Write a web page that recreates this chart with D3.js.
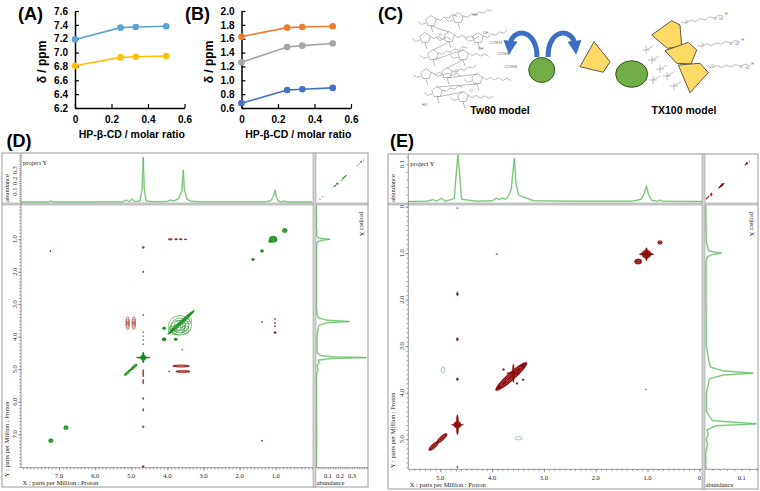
<!DOCTYPE html>
<html lang="en">
<head>
<meta charset="utf-8">
<title>HP-β-CD / surfactant figure</title>
<script src="https://cdnjs.cloudflare.com/ajax/libs/d3/7.8.5/d3.min.js"></script>
<style>
  body { margin: 0; background: #fff; }
  svg { display: block; }
  .bold { font-family: "Liberation Sans", Arial, sans-serif; font-weight: bold; fill: #000; }
  .nmr { font-family: "Liberation Serif", "Times New Roman", serif; font-size: 6.5px; fill: #222; }
  .chem { font-family: "Liberation Sans", Arial, sans-serif; font-size: 3.6px; fill: #666; }
</style>
</head>
<body>
<div id="fig"></div>
<script>
// ---------- (A) / (B) chemical shift vs molar ratio ----------
var ratio = [0, 0.25, 0.333, 0.5];
var ratioTicks = [0, 0.2, 0.4, 0.6];
var aBlue = [7.19, 7.36, 7.37, 7.38];
var aYellow = [6.81, 6.93, 6.94, 6.95];
var aTicks = [6.2, 6.4, 6.6, 6.8, 7.0, 7.2, 7.4, 7.6];
var bOrange = [1.63, 1.76, 1.77, 1.78];
var bGray = [1.26, 1.48, 1.50, 1.53];
var bBlue = [0.67, 0.86, 0.87, 0.89];
var bTicks = [0.6, 0.8, 1.0, 1.2, 1.4, 1.6, 1.8, 2.0];

// ---------- (D) 2D spectrum, Tw80 ----------
var dXTicks = [7, 6, 5, 4, 3, 2, 1];
var dYTicks = [1, 2, 3, 4, 5, 6, 7];
var dAbTicks = [0.1, 0.2, 0.3];
// [ppm, abundance]
var dTopSpec = [[8.05,.003],[7.3,.003],[7.23,.012],[7.16,.003],[6.85,.003],[6.81,.006],[6.77,.003],[5.25,.004],[5.13,.02],[5.06,.006],[4.97,.03],[4.9,.007],[4.76,.012],[4.7,.12],[4.67,.42],[4.64,.12],[4.59,.012],[4.4,.005],[4.0,.008],[3.92,.02],[3.84,.012],[3.7,.03],[3.6,.1],[3.56,.3],[3.53,.12],[3.46,.03],[3.35,.01],[3.1,.004],[1.3,.004],[1.13,.015],[1.06,.06],[1.02,.115],[0.98,.05],[0.93,.012],[0.85,.004],[0.77,.012],[0.7,.003],[0,.003]];
var dSideSpec = [[-0.05,.003],[0.7,.004],[0.78,.008],[0.85,.004],[0.95,.015],[0.98,.05],[1.0,.117],[1.03,.05],[1.08,.012],[1.2,.005],[1.4,.004],[3.0,.004],[3.3,.008],[3.42,.02],[3.49,.09],[3.53,.28],[3.57,.09],[3.65,.025],[3.8,.015],[3.95,.01],[4.1,.008],[4.5,.01],[4.58,.04],[4.62,.15],[4.64,.42],[4.67,.13],[4.72,.02],[4.8,.025],[4.9,.008],[5.02,.018],[5.12,.006],[5.3,.004],[7.2,.006],[8.03,.003]];
// cross peaks: ppm centre, half widths (ppm), diagonal tilt, sign colour, contour levels
var dPeaks = [
  {x:0.75,y:0.73,wx:.07,wy:.07,c:"g",n:2},
  {x:1.07,y:1.0,wx:.11,wy:.1,c:"g",n:3},
  {x:1.15,y:1.06,wx:.05,wy:.04,c:"g",n:1},
  {x:1.38,y:1.36,wx:.045,wy:.045,c:"g",n:1},
  {x:1.63,y:1.62,wx:.04,wy:.04,c:"g",n:1},
  {x:4.67,y:1.25,wx:.035,wy:.035,c:"g",n:1},
  {x:4.67,y:3.33,wx:.02,wy:.02,c:"g",n:1},
  {x:3.62,y:3.56,wx:.37,wy:.05,tilt:1,c:"g",n:2},
  {x:4.09,y:3.74,wx:.045,wy:.045,c:"g",n:1},
  {x:4.09,y:4.08,wx:.055,wy:.055,c:"g",n:1},
  {x:3.77,y:4.08,wx:.045,wy:.045,c:"g",n:1},
  {x:4.67,y:3.86,wx:.012,wy:.02,c:"g",n:1},
  {x:4.67,y:3.98,wx:.012,wy:.02,c:"g",n:1},
  {x:4.67,y:4.1,wx:.012,wy:.02,c:"g",n:1},
  {x:4.67,y:4.23,wx:.012,wy:.02,c:"g",n:1},
  {x:4.67,y:4.64,wx:.08,wy:.08,c:"g",n:2},
  {x:4.67,y:4.64,wx:.2,wy:.025,c:"g",n:1},
  {x:4.67,y:4.64,wx:.03,wy:.17,c:"g",n:1},
  {x:5.1,y:5.1,wx:.09,wy:.035,tilt:1,c:"g",n:2},
  {x:4.93,y:4.93,wx:.09,wy:.04,tilt:1,c:"g",n:2},
  {x:7.23,y:7.2,wx:.065,wy:.065,c:"g",n:2},
  {x:6.81,y:6.8,wx:.065,wy:.065,c:"g",n:2},
  {x:4.67,y:6.77,wx:.03,wy:.03,c:"g",n:1},
  {x:3.92,y:1.0,wx:.06,wy:.03,c:"r",n:2},
  {x:3.76,y:1.0,wx:.045,wy:.025,c:"r",n:1},
  {x:3.63,y:1.0,wx:.045,wy:.025,c:"r",n:1},
  {x:3.5,y:1.0,wx:.04,wy:.02,c:"r",n:1},
  {x:7.24,y:1.36,wx:.02,wy:.02,c:"r",n:1},
  {x:4.67,y:2.0,wx:.015,wy:.03,c:"r",n:1},
  {x:1.38,y:3.54,wx:.02,wy:.02,c:"r",n:1},
  {x:1.02,y:3.45,wx:.02,wy:.02,c:"r",n:1},
  {x:1.02,y:3.58,wx:.02,wy:.025,c:"r",n:1},
  {x:1.02,y:3.68,wx:.02,wy:.025,c:"r",n:1},
  {x:1.02,y:3.87,wx:.035,wy:.035,c:"r",n:1},
  {x:3.59,y:4.4,wx:.015,wy:.015,c:"r",n:1},
  {x:3.62,y:4.9,wx:.24,wy:.04,c:"r",n:3},
  {x:3.57,y:5.07,wx:.2,wy:.04,c:"r",n:3},
  {x:3.95,y:5.07,wx:.02,wy:.02,c:"r",n:1},
  {x:4.67,y:5.12,wx:.015,wy:.12,c:"r",n:1},
  {x:4.67,y:5.38,wx:.015,wy:.08,c:"r",n:1},
  {x:4.67,y:5.9,wx:.012,wy:.04,c:"r",n:1},
  {x:4.67,y:6.25,wx:.012,wy:.05,c:"r",n:1},
  {x:4.67,y:7.99,wx:.03,wy:.03,c:"r",n:1},
  {x:1.38,y:7.2,wx:.02,wy:.02,c:"r",n:1}
];
var dLoops = [
  {x:3.65,y:3.65,wx:.32,wy:.3,c:"g",n:4},
  {x:3.72,y:3.72,wx:.2,wy:.22,c:"g",n:2},
  {x:3.45,y:3.5,wx:.12,wy:.1,c:"g",n:2},
  {x:3.85,y:3.8,wx:.12,wy:.12,c:"g",n:2},
  {x:3.5,y:3.78,wx:.1,wy:.12,c:"g",n:2},
  {x:5.1,y:3.58,wx:.05,wy:.2,c:"r",n:3},
  {x:4.93,y:3.58,wx:.05,wy:.2,c:"r",n:3}
];

// ---------- (E) 2D spectrum, TX100 ----------
var eXTicks = [5, 4, 3, 2, 1, 0];
var eYTicks = [0, 1, 2, 3, 4, 5];
var eAbTicks = [0.1];
var eTopSpec = [[5.62,.002],[5.25,.003],[5.14,.007],[5.07,.003],[4.98,.01],[4.9,.003],[4.73,.01],[4.69,.08],[4.66,.124],[4.63,.08],[4.59,.008],[4.3,.003],[4.0,.004],[3.92,.011],[3.86,.007],[3.8,.011],[3.75,.008],[3.7,.012],[3.63,.035],[3.59,.09],[3.57,.116],[3.54,.05],[3.49,.02],[3.42,.015],[3.32,.01],[3.2,.004],[2.5,.003],[1.3,.003],[1.18,.006],[1.12,.008],[1.06,.025],[1.02,.043],[0.98,.02],[0.92,.005],[0.8,.003],[0.76,.006],[0.72,.003],[-0.06,.002]];
var eSideSpec = [[-0.06,.002],[0.5,.003],[0.77,.004],[0.95,.01],[0.98,.03],[1.0,.045],[1.03,.02],[1.08,.006],[1.2,.003],[2.0,.003],[3.0,.004],[3.3,.01],[3.45,.015],[3.53,.05],[3.58,.131],[3.62,.05],[3.7,.012],[3.85,.008],[4.0,.004],[4.4,.004],[4.6,.02],[4.67,.14],[4.71,.03],[4.8,.005],[4.9,.009],[5.0,.003],[5.1,.007],[5.3,.002],[5.65,.002]];
var ePeaks = [
  {x:0.76,y:0.77,wx:.045,wy:.045,c:"r",n:2},
  {x:1.02,y:1.02,wx:.09,wy:.09,c:"r",n:3},
  {x:1.02,y:1.02,wx:.14,wy:.025,c:"r",n:1},
  {x:1.02,y:1.02,wx:.025,wy:.14,c:"r",n:1},
  {x:1.18,y:1.18,wx:.07,wy:.06,c:"r",n:2},
  {x:4.67,y:1.88,wx:.02,wy:.035,c:"r",n:1},
  {x:4.67,y:2.85,wx:.02,wy:.035,c:"r",n:1},
  {x:4.67,y:3.71,wx:.02,wy:.03,c:"r",n:1},
  {x:3.63,y:3.65,wx:.3,wy:.08,tilt:1,c:"r",n:3},
  {x:3.59,y:3.58,wx:.13,wy:.02,c:"r",n:1},
  {x:3.59,y:3.58,wx:.02,wy:.2,c:"r",n:1},
  {x:3.78,y:3.5,wx:.02,wy:.02,c:"r",n:1},
  {x:3.52,y:3.8,wx:.02,wy:.02,c:"r",n:1},
  {x:3.4,y:3.72,wx:.02,wy:.02,c:"r",n:1},
  {x:4.67,y:4.69,wx:.07,wy:.07,c:"r",n:2},
  {x:4.67,y:4.69,wx:.025,wy:.22,c:"r",n:1},
  {x:4.67,y:4.69,wx:.12,wy:.02,c:"r",n:1},
  {x:4.97,y:4.98,wx:.1,wy:.045,tilt:1,c:"r",n:2},
  {x:5.13,y:5.15,wx:.09,wy:.045,tilt:1,c:"r",n:2},
  {x:3.91,y:1.02,wx:.018,wy:.018,c:"g",n:1},
  {x:4.67,y:0.03,wx:.015,wy:.02,c:"g",n:1},
  {x:4.67,y:1.84,wx:.015,wy:.015,c:"g",n:1},
  {x:4.67,y:2.82,wx:.015,wy:.015,c:"g",n:1},
  {x:1.03,y:3.93,wx:.015,wy:.015,c:"g",n:1},
  {x:4.67,y:5.6,wx:.015,wy:.03,c:"g",n:1}
];
var eLoops = [
  {x:4.95,y:3.51,wx:.035,wy:.07,c:"g",n:1},
  {x:3.49,y:4.98,wx:.07,wy:.035,c:"g",n:1}
];

// ---------- (C) cartoon shapes ----------
var kite = [[594,41.7],[610,61.7],[603.3,72.3],[580,66.7]];
var txShapes = [
  [[651.7,35],[671.7,20.7],[680,25],[681.7,46.7],[667.3,48.3]],
  [[665,50.7],[688.3,42.3],[696.7,50],[691,64],[676.7,63.3]],
  [[678.3,65],[700,63.3],[708.3,72.7],[690,92.7]]
];
var cdBlobs = [[541.7,70,13,12.5],[631.7,74,16,13.3]];
var twRings = [[431,21],[449,37],[433,55],[463,55],[447,73],[477,79],[437,92],[463,97],[458,18],[425,38],[478,38],[426,74]];

var W = 760, H = 491;
var svg = d3.select("#fig").append("svg").attr("width", W).attr("height", H);
svg.append("rect").attr("width", W).attr("height", H).attr("fill", "#fff");
var defs = svg.append("defs");

function boldText(x, y, s, size, anchor) {
  return svg.append("text").attr("class", "bold").attr("x", x).attr("y", y)
    .attr("font-size", size).attr("text-anchor", anchor || "start").text(s);
}

// ---------- line panels ----------
function linePanel(o) {
  var x = d3.scaleLinear().domain([0, 0.6]).range([o.left, o.right]);
  var y = d3.scaleLinear().domain(o.yDom).range([o.bottom, o.top]);
  var g = svg.append("g");
  var fmt = function (d) { return d === 0 ? "0" : d3.format(".1f")(d); };

  var ax = g.append("g").attr("transform", "translate(0," + o.bottom + ")")
    .call(d3.axisBottom(x).tickValues(ratioTicks).tickSizeInner(-4).tickSizeOuter(0).tickPadding(8).tickFormat(fmt));
  var ay = g.append("g").attr("transform", "translate(" + o.left + ",0)")
    .call(d3.axisLeft(y).tickValues(o.yTicks).tickSizeInner(-4).tickSizeOuter(0).tickPadding(7).tickFormat(d3.format(".1f")));
  [ax, ay].forEach(function (a) {
    a.attr("font-family", "Liberation Sans, Arial, sans-serif").attr("font-size", 10).attr("font-weight", "bold");
    a.selectAll("line").attr("stroke", "#000").attr("stroke-width", 1.2);
    a.select(".domain").attr("stroke", "#000").attr("stroke-width", 1.5);
    a.selectAll("text").attr("fill", "#000");
  });

  var line = d3.line().x(function (d, i) { return x(ratio[i]); }).y(function (d) { return y(d); });
  o.series.forEach(function (s) {
    g.append("path").datum(s.v).attr("d", line).attr("fill", "none")
      .attr("stroke", s.col).attr("stroke-width", 1.6);
    g.selectAll(null).data(s.v).enter().append("circle")
      .attr("cx", function (d, i) { return x(ratio[i]); })
      .attr("cy", function (d) { return y(d); })
      .attr("r", 3.3).attr("fill", s.col);
  });

  boldText(o.labX, 62, "δ / ppm", 12, "middle").attr("transform", "rotate(-90," + o.labX + ",62)")
    .attr("y", 62 + 4);
  boldText((o.left + o.right) / 2 + 2, 138, "HP-β-CD / molar ratio", 10.5, "middle");
}

linePanel({ left: 75, right: 184.5, top: 11, bottom: 108, yDom: [6.2, 7.6], yTicks: aTicks, labX: 42,
  series: [{ v: aBlue, col: "#5ba3d0" }, { v: aYellow, col: "#ffc000" }] });
linePanel({ left: 241.5, right: 351, top: 11, bottom: 108, yDom: [0.6, 2.0], yTicks: bTicks, labX: 209,
  series: [{ v: bOrange, col: "#ed7d31" }, { v: bGray, col: "#a5a5a5" }, { v: bBlue, col: "#4472c4" }] });

boldText(18, 19.5, "(A)", 18);
boldText(185, 19.5, "(B)", 18);
boldText(378, 19.5, "(C)", 18);
boldText(6.5, 147, "(D)", 18);
boldText(390, 147, "(E)", 18);

// ---------- (C) cartoon ----------
(function () {
  var g = svg.append("g");
  var chemStroke = "#777";
  function pentagon(cx, cy, r) {
    return d3.range(5).map(function (i) {
      var a = -Math.PI / 2 + i * 2 * Math.PI / 5;
      return [cx + r * Math.cos(a), cy + r * Math.sin(a)];
    });
  }
  function zigzag(x0, y0, n, step, amp, ang) {
    var c = Math.cos(ang), s = Math.sin(ang), pts = [];
    for (var i = 0; i <= n; i++) {
      var off = (i % 2 ? amp : 0);
      pts.push([x0 + i * step * c - off * s, y0 + i * step * s + off * c]);
    }
    return pts;
  }
  var ln = d3.line();
  // Tween 80 skeleton
  twRings.forEach(function (r, i) {
    g.append("path").attr("d", ln(pentagon(r[0], r[1], 5.5)) + "Z").attr("fill", "none")
      .attr("stroke", chemStroke).attr("stroke-width", 0.5);
    g.append("path").attr("d", ln(zigzag(r[0] + 5, r[1] - 2, 5 + (i % 3), 4.2, 2.4, -0.25 + (i % 2) * 0.3)))
      .attr("fill", "none").attr("stroke", chemStroke).attr("stroke-width", 0.5);
    g.append("path").attr("d", ln(zigzag(r[0] - 5, r[1] + 2, 2, -4, 2.2, 0.2)))
      .attr("fill", "none").attr("stroke", chemStroke).attr("stroke-width", 0.5);
    g.append("line").attr("x1", r[0]).attr("y1", r[1] + 5).attr("x2", r[0] + 2).attr("y2", r[1] + 11)
      .attr("stroke", chemStroke).attr("stroke-width", 0.5);
    if (i > 0 && i < 8) {
      var p = twRings[i - 1];
      g.append("line").attr("x1", p[0]).attr("y1", p[1] + 5).attr("x2", r[0]).attr("y2", r[1] - 5)
        .attr("stroke", chemStroke).attr("stroke-width", 0.5);
    }
  });
  [["OH", 472, 16], ["OH", 483, 34], ["OH", 478, 50], ["C17H33", 489, 44], ["C17H33", 497, 55],
   ["C17H33", 504, 68], ["HO", 422, 106], ["O", 439, 36], ["O", 455, 72], ["O", 470, 92]].forEach(function (t) {
    g.append("text").attr("class", "chem").attr("x", t[1]).attr("y", t[2]).text(t[0]);
  });

  // curved arrows
  defs.append("marker").attr("id", "ahead").attr("viewBox", "0 0 10 10").attr("refX", 3).attr("refY", 5)
    .attr("markerWidth", 2.8).attr("markerHeight", 2.8).attr("orient", "auto")
    .append("path").attr("d", "M0,0 L10,5 L0,10 Z").attr("fill", "#3d6fc2");
  g.append("path").attr("d", "M537,57 C537,28 512,27 510,45").attr("fill", "none")
    .attr("stroke", "#3d6fc2").attr("stroke-width", 5).attr("marker-end", "url(#ahead)");
  g.append("path").attr("d", "M548,57 C548,27 573,28 575,45").attr("fill", "none")
    .attr("stroke", "#3d6fc2").attr("stroke-width", 5).attr("marker-end", "url(#ahead)");

  // cyclodextrin (green) and guest (yellow)
  cdBlobs.forEach(function (b) {
    g.append("ellipse").attr("cx", b[0]).attr("cy", b[1]).attr("rx", b[2]).attr("ry", b[3])
      .attr("fill", "#70ad47").attr("stroke", "#2d4a1c").attr("stroke-width", 0.9);
  });
  g.append("path").attr("d", ln(kite) + "Z").attr("fill", "#ffd966").attr("stroke", "#333").attr("stroke-width", 0.8);

  // Triton X-100: octyl branches, PEG chains, hydrophobic blocks
  [[646,50],[652,60],[660,69],[653,80],[667,76],[674,86],[683,58]].forEach(function (p) {
    g.append("path").attr("d", "M" + (p[0] - 4) + "," + p[1] + "h8M" + p[0] + "," + (p[1] - 4) + "v8")
      .attr("stroke", "#999").attr("stroke-width", 0.6);
    g.append("line").attr("x1", p[0]).attr("y1", p[1]).attr("x2", p[0] + 7).attr("y2", p[1] - 4)
      .attr("stroke", "#999").attr("stroke-width", 0.6);
  });
  [[681, 22, -0.18], [697, 45, -0.12], [707, 66, -0.05]].forEach(function (c) {
    var pts = zigzag(c[0], c[1], 9, 4.8, 2.2, c[2]);
    g.append("path").attr("d", ln(pts)).attr("fill", "none").attr("stroke", "#888").attr("stroke-width", 0.55);
    g.append("text").attr("class", "chem").attr("font-size", 4.5).attr("x", pts[1][0] - 1).attr("y", pts[1][1] - 0.5).text("O");
    g.append("text").attr("class", "chem").attr("font-size", 4.5).attr("x", pts[7][0] - 1).attr("y", pts[7][1] + 1.5).text("O");
    g.append("text").attr("class", "chem").attr("font-size", 3.6).attr("x", pts[9][0] + 1).attr("y", pts[9][1] - 1).text("H");
    g.append("text").attr("class", "chem").attr("font-size", 2.8).attr("x", pts[8][0]).attr("y", pts[8][1] + 5).text("10");
  });
  txShapes.forEach(function (s) {
    g.append("path").attr("d", ln(s) + "Z").attr("fill", "#ffd966").attr("stroke", "#333").attr("stroke-width", 0.8);
  });

  boldText(500, 113.5, "Tw80 model", 10.5, "middle");
  boldText(684, 113.5, "TX100 model", 10.5, "middle");
})();

// ---------- 2D NMR panels ----------
function drawPeaks(layer, list, xs, ys, cols, hollow, mini) {
  var kx = Math.abs(xs(1) - xs(0)), ky = Math.abs(ys(1) - ys(0));
  var ang = Math.atan2(-ky, kx) * 180 / Math.PI;
  list.forEach(function (p) {
    var rx, ry, a = 0;
    if (p.tilt) { rx = p.wx * Math.hypot(kx, ky); ry = p.wy * (kx + ky) / 2; a = ang; }
    else { rx = p.wx * kx; ry = p.wy * ky; }
    var lo = mini ? 0.45 : 0.55;
    rx = Math.max(rx, lo); ry = Math.max(ry, lo);
    var pg = layer.append("g").attr("transform", "translate(" + xs(p.x) + "," + ys(p.y) + ") rotate(" + a + ")");
    var n = mini ? 1 : p.n;
    for (var i = 0; i < n; i++) {
      var s = 1 - i / n;
      var e = pg.append("ellipse").attr("rx", rx * s).attr("ry", ry * s);
      if (hollow) e.attr("fill", "none").attr("stroke", cols[p.c]).attr("stroke-width", 0.55);
      else if (i === 0) e.attr("fill", cols[p.c]).attr("stroke", cols[p.c]).attr("stroke-width", 0.3);
      else e.attr("fill", "none").attr("stroke", cols[p.c + "l"]).attr("stroke-width", 0.35);
    }
  });
}

function clip(id, x, y, w, h) {
  defs.append("clipPath").attr("id", id).append("rect").attr("x", x).attr("y", y).attr("width", w).attr("height", h);
  return "url(#" + id + ")";
}

function nmrPanel(c) {
  var g = svg.append("g");
  var xs = d3.scaleLinear().domain(c.xDom).range(c.xRng);
  var ys = d3.scaleLinear().domain(c.yDom).range(c.yRng);
  var tAb = d3.scaleLinear().domain([0, 0.1]).range(c.topAb);
  var rAb = d3.scaleLinear().domain([0, 0.1]).range(c.sideAb);
  var mx = d3.scaleLinear().domain(c.xDom).range(c.miniX);
  var my = d3.scaleLinear().domain(c.yDom).range(c.miniY);
  var px0 = c.xRng[0], px1 = c.sepX, py1 = c.yRng[1];
  var line = "#555";

  g.append("rect").attr("x", c.fl).attr("y", c.ft).attr("width", c.fr - c.fl).attr("height", c.fb - c.ft)
    .attr("fill", "#fff").attr("stroke", "#9a9a9a").attr("stroke-width", 1);

  // top projection
  var top = g.append("g").attr("clip-path", clip(c.id + "t", px0, c.ft, px1 - px0, c.sepY - c.ft));
  var tl = d3.line().x(function (d) { return xs(d[0]); }).y(function (d) { return tAb(d[1]); });
  top.append("path").datum(c.topSpec).attr("d", tl).attr("fill", "none").attr("stroke", "#cdeccd").attr("stroke-width", 2);
  top.append("path").datum(c.topSpec).attr("d", tl).attr("fill", "none").attr("stroke", "#5cb85c").attr("stroke-width", 0.8);

  // side projection
  var side = g.append("g").attr("clip-path", clip(c.id + "s", c.sepX + 3, c.sepY + 2, c.fr - c.sepX - 3, py1 - c.sepY - 2));
  var sl = d3.line().x(function (d) { return rAb(d[1]); }).y(function (d) { return ys(d[0]); });
  side.append("path").datum(c.sideSpec).attr("d", sl).attr("fill", "none").attr("stroke", "#cdeccd").attr("stroke-width", 2);
  side.append("path").datum(c.sideSpec).attr("d", sl).attr("fill", "none").attr("stroke", "#5cb85c").attr("stroke-width", 0.8);

  // main contour map
  var main = g.append("g").attr("clip-path", clip(c.id + "m", px0, c.sepY + 2, px1 - px0, py1 - c.sepY - 2));
  drawPeaks(main, c.loops, xs, ys, c.cols, true, false);
  drawPeaks(main, c.peaks, xs, ys, c.cols, false, false);

  // mini overview (top right): diagonal peaks only
  var mini = g.append("g").attr("clip-path", clip(c.id + "n", c.sepX + 3, c.ft, c.fr - c.sepX - 3, c.sepY - c.ft));
  drawPeaks(mini, c.peaks.filter(function (p) { return Math.abs(p.x - p.y) < 0.3 && (p.wx >= 0.04 || p.wy >= 0.1); }),
    mx, my, c.cols, false, true);

  // separators
  g.append("rect").attr("x", c.fl).attr("y", c.sepY).attr("width", c.fr - c.fl).attr("height", 2)
    .attr("fill", "#d4d4d4").attr("stroke", "#8c8c8c").attr("stroke-width", 0.5);
  g.append("rect").attr("x", c.sepX).attr("y", c.ft).attr("width", 3).attr("height", c.fb - c.ft)
    .attr("fill", "#d4d4d4").attr("stroke", "#8c8c8c").attr("stroke-width", 0.5);

  // axes
  function ticks(axisG) { axisG.select(".domain").remove(); axisG.selectAll("line").attr("stroke", line).attr("stroke-width", 0.5); }
  var minorX = d3.range(Math.ceil(Math.min.apply(null, c.xDom) * 10), Math.floor(Math.max.apply(null, c.xDom) * 10) + 1).map(function (v) { return v / 10; });
  var minorY = d3.range(Math.ceil(c.yDom[0] * 10), Math.floor(c.yDom[1] * 10) + 1).map(function (v) { return v / 10; });
  g.append("g").attr("transform", "translate(0," + py1 + ")").call(d3.axisBottom(xs).tickValues(minorX).tickSize(1.8).tickFormat("")).call(ticks);
  g.append("g").attr("transform", "translate(0," + py1 + ")").call(d3.axisBottom(xs).tickValues(c.xTicks).tickSize(3).tickFormat("")).call(ticks);
  g.append("g").attr("transform", "translate(" + px0 + ",0)").call(d3.axisLeft(ys).tickValues(minorY).tickSize(1.8).tickFormat("")).call(ticks);
  g.append("g").attr("transform", "translate(" + px0 + ",0)").call(d3.axisLeft(ys).tickValues(c.yTicks).tickSize(3).tickFormat("")).call(ticks);
  var minorAb = d3.range(1, 25).map(function (v) { return v / 50; }).filter(function (v) { return tAb(v) > c.ft + 1; });
  g.append("g").attr("transform", "translate(" + px0 + ",0)").call(d3.axisLeft(tAb).tickValues(minorAb).tickSize(1.8).tickFormat("")).call(ticks);
  var minorSide = d3.range(1, 25).map(function (v) { return v / 50; }).filter(function (v) { return rAb(v) < c.fr - 1; });
  g.append("g").attr("transform", "translate(0," + py1 + ")").call(d3.axisBottom(rAb).tickValues(minorSide).tickSize(1.8).tickFormat("")).call(ticks);

  g.append("line").attr("x1", px0).attr("x2", px0).attr("y1", c.ft).attr("y2", py1).attr("stroke", line).attr("stroke-width", 0.6);
  g.append("line").attr("x1", px0).attr("x2", px1).attr("y1", py1).attr("y2", py1).attr("stroke", line).attr("stroke-width", 0.6);
  g.append("line").attr("x1", c.sepX + 3).attr("x2", c.fr).attr("y1", py1).attr("y2", py1).attr("stroke", line).attr("stroke-width", 0.6);

  var f1 = function (d) { return d === 0 ? "0" : d3.format(".1f")(d); };
  g.selectAll(null).data(c.xTicks).enter().append("text").attr("class", "nmr")
    .attr("x", function (d) { return xs(d); }).attr("y", py1 + 10.3).attr("text-anchor", "middle").text(f1);
  g.selectAll(null).data(c.yTicks).enter().append("text").attr("class", "nmr")
    .attr("transform", function (d) { return "translate(" + (px0 - 4.5) + "," + ys(d) + ") rotate(-90)"; })
    .attr("text-anchor", "middle").text(f1);
  g.selectAll(null).data(c.abTicks).enter().append("text").attr("class", "nmr")
    .attr("transform", function (d) { return "translate(" + (px0 - 4.5) + "," + tAb(d) + ") rotate(-90)"; })
    .attr("text-anchor", "middle").text(f1);
  g.selectAll(null).data(c.abTicks).enter().append("text").attr("class", "nmr")
    .attr("x", function (d) { return rAb(d); }).attr("y", py1 + 10.3).attr("text-anchor", "middle").text(f1);

  g.append("text").attr("class", "nmr").attr("x", px0 + 1.5).attr("y", c.fb - 2.5).text("X : parts per Million : Proton");
  g.append("text").attr("class", "nmr").attr("transform", "translate(" + (c.fl + 6.5) + "," + c.yTitle + ") rotate(-90)")
    .text("Y : parts per Million : Proton");
  g.append("text").attr("class", "nmr").attr("transform", "translate(" + (c.fl + 6.5) + "," + (c.sepY - 1) + ") rotate(-90)")
    .text("abundance");
  g.append("text").attr("class", "nmr").attr("x", c.sepX + 3.5).attr("y", c.fb - 2.5).text("abundance");
  g.append("text").attr("class", "nmr").attr("x", px0 + 2).attr("y", c.ft + 11.5).text("project Y");
  g.append("text").attr("class", "nmr").attr("transform", "translate(" + (c.fr - 8) + "," + (c.sepY + 9) + ") rotate(90)")
    .text("project X");
}

nmrPanel({
  id: "d", fl: 2, fr: 368, ft: 153, fb: 487, sepX: 313, sepY: 203,
  xDom: [8.055, 0], xRng: [21, 311.8], yDom: [0, 8.03], yRng: [206.8, 467.7],
  topAb: [202.3, 191.6], sideAb: [316, 328], miniX: [314.5, 368.5], miniY: [155.6, 204.3],
  xTicks: dXTicks, yTicks: dYTicks, abTicks: dAbTicks, yTitle: 477,
  topSpec: dTopSpec, sideSpec: dSideSpec, peaks: dPeaks, loops: dLoops,
  cols: { g: "#178a17", gl: "#8fd48f", r: "#8e1b12", rl: "#e09a90" }
});
nmrPanel({
  id: "e", fl: 388, fr: 758, ft: 154, fb: 489, sepX: 702, sepY: 203,
  xDom: [5.618, -0.052], xRng: [408.3, 702], yDom: [0, 5.647], yRng: [206.7, 469.3],
  topAb: [202.3, 164.3], sideAb: [705, 741.7], miniX: [702, 757.3], miniY: [154.7, 202.6],
  xTicks: eXTicks, yTicks: eYTicks, abTicks: eAbTicks, yTitle: 468,
  topSpec: eTopSpec, sideSpec: eSideSpec, peaks: ePeaks, loops: eLoops,
  cols: { g: "#4fa84f", gl: "#aee0ae", r: "#8b0e0e", rl: "#e39a9a" }
});
</script>
</body>
</html>
